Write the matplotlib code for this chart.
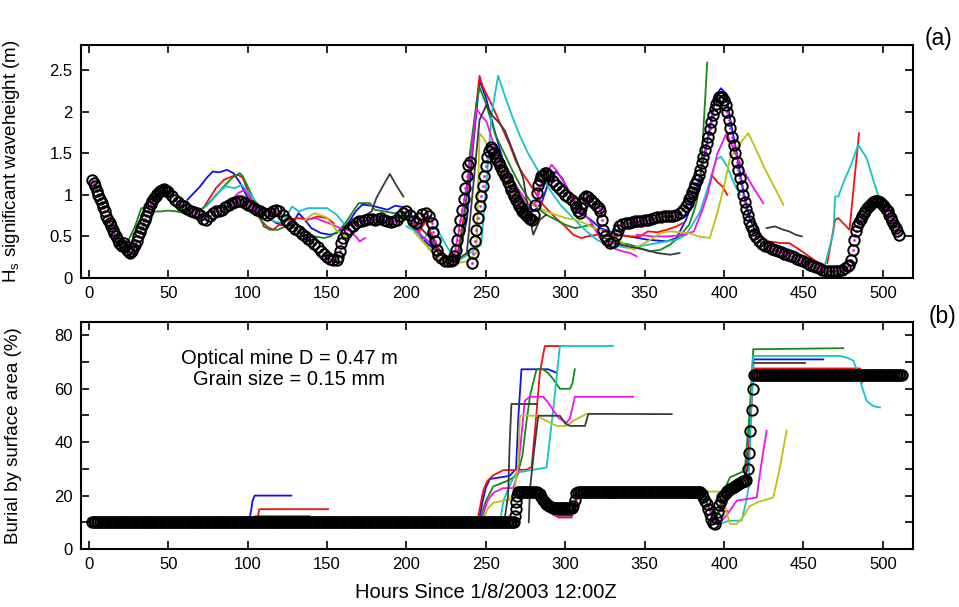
import matplotlib
matplotlib.use("Agg")
import matplotlib.pyplot as plt
from matplotlib.ticker import MultipleLocator

plt.rcParams['font.family'] = ['Liberation Sans', 'DejaVu Sans']

# ---------------- observed significant wave height (black circles) ----------------
obs_hours = [2,3,4,5,6,7,8,9,10,11,12,13,14,15,16,17,18,19,20,21,22,23,24,25,26,27,28,29,30,
             31,32,33,34,35,36,37,38,39,40,41,42,43,44,45,46,47,48,49,
             50,52,54,56,58,60,62,64,66,68,70,72,74,76,78,80,82,84,86,88,90,92,94,96,98,
             100,102,104,106,108,110,112,114,116,118,120,122,124,126,128,130,132,134,136,138,
             140,142,144,146,148,150,152,154,156,157,158,159,160,162,164,166,168,170,172,174,
             176,178,180,182,184,186,188,190,192,194,196,198,200,202,204,206,208,210,212,214,
             216,217,218,219,220,222,224,226,228,229,230,231,232,233,234,235,236,237,238,239,
             240,241,242,243,244,245,246,247,248,249,250,251,252,253,254,255,256,257,258,259,
             260,261,262,263,264,265,266,267,268,269,270,271,272,273,274,275,276,277,278,279,
             280,281,282,283,284,285,286,287,288,289,290,292,294,296,298,300,302,304,306,307,
             308,309,310,311,312,313,314,316,318,320,321,322,323,324,325,326,328,330,332,333,
             334,336,338,340,342,344,346,348,350,352,354,356,358,360,362,364,366,368,370,372,
             374,376,377,378,379,380,381,382,383,384,385,386,387,388,389,390,391,392,393,394,
             395,396,397,398,399,400,401,402,403,404,405,406,407,408,409,410,411,412,413,414,
             415,416,417,418,419,420,422,424,426,428,430,432,434,436,438,440,442,444,446,448,
             450,452,454,456,458,460,462,464,466,468,470,472,474,476,478,479,480,481,482,483,
             484,485,486,487,488,489,490,491,492,493,494,495,496,497,498,499,500,501,502,503,
             504,505,506,507,508,509,510]
obs_hs = [1.18,1.14,1.10,1.05,1.00,0.95,0.90,0.85,0.80,0.75,0.70,0.66,0.62,0.58,0.54,0.50,0.46,0.42,0.40,0.38,0.42,0.38,0.34,0.31,0.30,0.32,0.36,0.40,0.45,
          0.50,0.55,0.60,0.65,0.70,0.75,0.80,0.85,0.89,0.93,0.96,0.99,1.01,1.03,1.05,1.06,1.07,1.06,1.05,
          1.03,0.98,0.94,0.91,0.88,0.86,0.83,0.80,0.79,0.78,0.76,0.71,0.70,0.74,0.78,0.80,0.80,0.82,0.85,0.88,0.90,0.91,0.92,0.92,0.90,
          0.88,0.86,0.84,0.82,0.80,0.78,0.76,0.78,0.81,0.82,0.81,0.76,0.70,0.66,0.62,0.59,0.56,0.53,0.50,0.47,
          0.44,0.41,0.37,0.33,0.29,0.25,0.23,0.22,0.22,0.25,0.32,0.42,0.48,0.54,0.59,0.63,0.66,0.68,0.69,0.70,
          0.71,0.71,0.70,0.71,0.72,0.70,0.68,0.67,0.68,0.70,0.74,0.78,0.80,0.76,0.68,0.66,0.72,0.77,0.78,0.75,
          0.66,0.55,0.44,0.34,0.28,0.24,0.21,0.20,0.20,0.22,0.26,0.34,0.46,0.58,0.70,0.82,0.95,1.08,1.22,1.36,
          1.40,0.18,0.30,0.44,0.58,0.72,0.86,0.98,1.10,1.22,1.34,1.45,1.53,1.57,1.55,1.50,1.46,1.42,1.38,1.34,
          1.30,1.27,1.23,1.20,1.15,1.10,1.06,1.02,0.98,0.94,0.90,0.87,0.84,0.81,0.78,0.76,0.74,0.72,0.71,0.70,
          0.76,0.88,1.02,1.12,1.18,1.22,1.24,1.26,1.26,1.24,1.22,1.17,1.12,1.08,1.04,1.00,0.97,0.94,0.90,0.85,
          0.80,0.78,0.84,0.90,0.96,0.98,0.97,0.94,0.90,0.86,0.84,0.80,0.70,0.58,0.50,0.46,0.42,0.43,0.52,0.58,
          0.63,0.65,0.66,0.66,0.67,0.68,0.68,0.69,0.70,0.70,0.71,0.72,0.73,0.73,0.74,0.74,0.75,0.75,0.76,0.78,
          0.82,0.86,0.90,0.95,0.99,1.03,1.08,1.13,1.18,1.24,1.30,1.38,1.46,1.54,1.62,1.70,1.79,1.88,1.96,2.03,
          2.09,2.14,2.17,2.18,2.17,2.14,2.08,2.00,1.90,1.80,1.70,1.60,1.50,1.40,1.30,1.20,1.10,1.00,0.91,0.83,
          0.76,0.69,0.63,0.58,0.53,0.49,0.44,0.41,0.39,0.37,0.35,0.34,0.32,0.31,0.29,0.28,0.26,0.25,0.23,0.22,
          0.20,0.18,0.16,0.15,0.13,0.12,0.10,0.09,0.08,0.08,0.08,0.09,0.10,0.12,0.14,0.16,0.22,0.34,0.46,0.56,
          0.62,0.67,0.71,0.75,0.78,0.81,0.84,0.86,0.88,0.90,0.91,0.92,0.92,0.92,0.91,0.90,0.88,0.86,0.83,0.80,
          0.76,0.72,0.68,0.64,0.60,0.56,0.52]

# ---------------- forecast wave height runs (hours, Hs) ----------------
blue_hs = [
    ([62,66,70,74,78,82,87,91,95,100,106,112,118,124,128,132,136,140,146,152,156,160,164,168,172,178,184,188,193,198,202,206,210,214,218],
     [0.94,1.02,1.10,1.20,1.28,1.27,1.30,1.26,1.15,0.96,0.86,0.74,0.66,0.62,0.64,0.78,0.70,0.60,0.54,0.52,0.54,0.60,0.68,0.80,0.88,0.87,0.84,0.82,0.87,0.85,0.80,0.62,0.48,0.40,0.34]),
    ([214,220,226,232,238,242,246,250,255,261,267,272,276,280,285,290,294,298,302,306,310,316,322,328,334,340,346,352,358,364,370,376,382,388,392,395,398,401,404,408,412,416,420,426,432,438,444,450],
     [0.55,0.35,0.22,0.18,0.70,1.60,2.37,2.17,1.80,1.40,1.16,0.98,0.86,0.80,0.90,1.18,1.28,1.20,1.05,0.90,0.78,0.70,0.60,0.56,0.52,0.50,0.48,0.46,0.45,0.44,0.48,0.70,1.00,1.50,1.90,2.20,2.28,2.22,1.90,1.50,1.05,0.72,0.55,0.45,0.40,0.36,0.32,0.26]),
]
red_hs = [
    ([72,76,80,85,90,94,97,100,104,108,112,116,120,126,132,138,144,150,154],
     [0.84,0.96,1.08,1.18,1.22,1.24,1.20,1.05,0.85,0.70,0.62,0.58,0.64,0.70,0.72,0.70,0.74,0.72,0.66]),
    ([200,204,208,212,216,220,226,231,235,240,243,246,248,254,261,265,269,273,278,282,286,290,294,300,305,310,314,320,326,334,340,347,352,358,364,370,374],
     [0.74,0.66,0.56,0.68,0.52,0.36,0.22,0.16,0.60,1.28,1.90,2.43,2.30,2.07,1.77,1.60,1.40,1.26,1.12,1.00,0.88,0.80,0.72,0.62,0.52,0.48,0.50,0.52,0.50,0.52,0.50,0.50,0.56,0.55,0.58,0.62,0.66]),
    ([392,396,399,402], [1.24,1.15,1.10,1.00]),
    ([420,428,436,441,446,452,458,464], [0.55,0.44,0.42,0.42,0.36,0.28,0.20,0.14]),
    ([465,470,472,479,485], [0.18,0.70,0.72,0.58,1.74]),
]
green_hs = [
    ([25,29,33,37,41,45,50,55,60,66,72,78,85,90,95,97,101,106,110,114,119,124,130,136,142,148,152,158,163,167,170,177,180,186,192,198,204,208,214,220,226,232,236,240,244,246,250,256,262,267,272,278,284,288,294,300,306,312,316,322,328,335,341,347,353,360,366,372,378,382,385,389.4],
     [0.46,0.62,0.84,0.84,0.80,0.80,0.81,0.80,0.78,0.80,0.84,0.95,1.10,1.20,1.26,1.22,1.06,0.84,0.62,0.58,0.58,0.62,0.66,0.56,0.50,0.48,0.50,0.58,0.70,0.82,0.90,0.90,0.82,0.80,0.78,0.74,0.62,0.50,0.36,0.24,0.18,0.20,0.60,1.50,2.10,2.29,2.10,1.72,1.48,1.28,1.10,0.92,0.82,0.76,0.70,0.64,0.60,0.62,0.64,0.52,0.44,0.42,0.40,0.36,0.32,0.34,0.40,0.50,0.64,0.86,1.12,2.59]),
]
cyan_hs = [
    ([74,80,86,92,96,100,105,110,116,122,128,132,138,144,150,156,162,166],
     [0.86,1.00,1.10,1.08,1.12,1.04,0.92,0.78,0.68,0.66,0.86,0.80,0.84,0.84,0.84,0.76,0.62,0.56]),
    ([200,206,210,216,220,226,232,240,247,251,253.5,257.7,263,267,271.4,276,281.9,287,292.4,297,302.9,308,313.4,320,326,334,340,346,352,358,364,370,376,380,385,390,395,398,402,406,410],
     [0.62,0.56,0.44,0.62,0.56,0.36,0.20,0.30,0.40,1.30,1.96,2.43,2.13,1.92,1.71,1.52,1.32,1.16,1.00,0.88,0.76,0.66,0.56,0.46,0.40,0.38,0.36,0.38,0.40,0.42,0.44,0.46,0.52,0.64,0.80,1.10,1.42,1.46,1.34,1.15,1.00]),
    ([463.6,468.8,470,472,475,480,484.5,489.8,493,497.2],
     [0.16,0.54,0.98,0.98,1.14,1.36,1.60,1.44,1.24,0.98]),
]
magenta_hs = [
    ([88,94,98,102,106], [0.90,1.02,1.06,0.94,0.84]),
    ([136,143,148,153.6,158,164,168,170.6,173.8], [0.70,0.72,0.68,0.64,0.60,0.57,0.50,0.44,0.48]),
    ([205,210,214,218,224,230,236,240,244,247,250.4,255,260,266,272,278,282,286,291.4,295,300,305,310,316,322,326,330,336,341,345],
     [0.60,0.50,0.44,0.36,0.24,0.26,0.90,1.34,2.04,1.95,1.88,1.60,1.42,1.20,1.02,0.86,0.92,1.20,1.36,1.28,1.12,0.96,0.82,0.68,0.48,0.40,0.36,0.32,0.30,0.26]),
    ([345,355,365,375,381,386,389.4,395.7,401.6,406,412,418,424.7],
     [0.52,0.50,0.50,0.52,0.56,0.80,0.99,1.49,1.74,1.55,1.30,1.10,0.90]),
]
yellow_hs = [
    ([90,96,100,104], [0.90,0.96,0.92,0.86]),
    ([136,142,149.6,156,162,166], [0.70,0.78,0.73,0.57,0.49,0.52]),
    ([205,212,218,224,232,238,244,246,248.6,252,258,264,270,276,282,288,294,300,306,312,318,322,326,330,335,340,344],
     [0.55,0.40,0.26,0.20,0.18,0.20,0.30,1.74,1.68,1.55,1.32,1.12,0.98,0.90,0.86,0.80,0.76,0.72,0.70,0.66,0.60,0.58,0.55,0.50,0.44,0.36,0.34]),
    ([344,352,360,366,372,378,384,391,396,400,403.7,410,415.3,420,426,432,437.3],
     [0.36,0.44,0.54,0.56,0.55,0.54,0.50,0.48,0.80,1.10,1.44,1.62,1.74,1.55,1.30,1.08,0.88]),
]
gray_hs = [
    ([160,170,178,181,185,189.5,194,198], [0.58,0.70,0.80,0.96,1.10,1.25,1.10,0.98]),
    ([208,214,220,226,232,238,242,246,250.4,254,257.7,262,268,273.5,276,279.8,284,288],
     [0.62,0.50,0.30,0.22,0.22,0.30,1.10,1.90,2.08,1.95,1.88,1.77,1.48,1.20,0.90,0.52,0.70,0.76]),
    ([330,340,350,358,366,372], [0.42,0.38,0.34,0.30,0.28,0.30]),
    ([426.8,432,437.3,441,445,449], [0.60,0.62,0.58,0.56,0.52,0.50]),
]

# ---------------- modelled burial (black circles) ----------------
bur_hours = (list(range(2, 269)) + [268.4, 268.8, 269.2, 269.6] + list(range(270, 415))
             + [415, 415.8, 416.6, 417.4, 418.2] + list(range(419, 513)))
bur_vals = ([10.0] * 267 + [12.5, 15.0, 17.5, 20.0]
            + [21.5] * 13 + [21.0, 20.5, 19.5, 18.5, 17.7, 17.0, 16.4, 16.0, 15.7, 15.5]
            + [15.3] * 12 + [16.0, 18.5, 21.0] + [21.5] * 78
            + [20.5, 19.5, 18.0, 16.9, 15.0, 13.0, 11.2, 9.7, 9.4, 11.5, 14.0, 16.3, 18.0, 19.4, 20.3,
               21.0, 21.7, 22.2, 22.6, 23.0, 23.3, 23.7, 24.0, 24.4, 24.8, 25.1, 25.4, 25.6, 25.8]
            + [30.0, 36.0, 44.0, 52.0, 60.0] + [65.0] * 94)

# ---------------- forecast burial runs (hours, %) ----------------
blue_bur = [
    ([101.3,102.3,103,104.4,127.5], [11.9,15,18,20,20]),
    ([246,248,250,252.5,258.8,265,269,270.5,272.4,289.2,294.4], [11.9,18,23,26.2,26.8,27.4,30,50,67.3,67.3,66]),
    ([284,288,292,296,304,306,307], [21,17,14,12.5,12.5,16,21]),
    ([386,390,394,398,402,406,412,415,418.6,462.5], [21.5,16,11,15,21,24,26,30,71,71]),
]
red_bur = [
    ([106.3,107.3,150.6], [11.9,14.9,14.9]),
    ([245.1,248.3,251,254.6,260.9,275.6,278.8,281,284,287.1,298.7], [11.9,21.9,25.5,27.6,29.5,29.7,30.7,45,66,76,76]),
    ([284,288,292,296,304,306,308], [21,17,13,11.8,11.8,16,21]),
    ([398,402,408,413,416,418.5,485.7,486.8], [16,21,25,27,40,67.6,67.6,62.3]),
    ([396,398,402], [14.3,14.3,14.3]),
]
green_bur = [
    ([103.7,105,139], [11.9,12.3,12.3]),
    ([246.2,250,254.6,265,270,273,275.6,278,281.9,286,289,292.4,296.6,302.9,304.5,306], [11,18,23.4,25.9,28,35,48,58,67.3,67.3,66,63.6,60,60,62,67.3]),
    ([386,392,396,400,403.7,413,416,418.4,475.1], [21.5,14,13,22,26.8,29.3,50,74.8,75.2]),
]
cyan_bur = [
    ([258.8,261,263,266,269.3,288.2,292,296.6,330], [9.5,18,21,25,28.6,30.5,50,76,76]),
    ([386,392,397.3,403,411,414,415.3,417,418.4,473,478,481.6,485.6,489.8,494,498.2], [21,13,9.4,10.6,10.6,18,22.4,50,72.3,72.3,71.5,70.5,63,55.5,53.5,53]),
]
magenta_bur = [
    ([247.2,251,254.6,260.9,267.2,270,272,274.5,277.7,286.1,289,292.4,296,300.8,303,306,342.8], [11,18,21,22.8,22.8,28,40,55.5,57,57,55,52,49,47.3,49,57,57]),
    ([390,394,397,402,408,420.6,423,426.8], [16,10,9.4,13,18.1,19.3,30,44.3]),
]
yellow_bur = [
    ([248.3,251,254.6,265,268,270.4,271.4,281.9,288,294.5,300.8,305,313.4], [11,15,17.3,18.5,22,32,49.9,49.9,48,46.1,46.1,48,50.6]),
    ([384,397,400,403.7,408,412,416,421.6,431,435,439.4], [21.5,21.5,17,9.4,9.4,12,16,17.6,19.3,30,44.3]),
]
gray_bur = [
    ([258,262,264,265,266.1,281.9], [10,12,20,40,54.3,54.3]),
    ([277,277.7,280,283,296.6,300,302.9,312.4,314.5,367], [10,22.1,35,49.9,49.9,47,46.1,46.1,50.6,50.5]),
    ([418.6,451], [69.5,69.5]),
]

colors = {'blue': '#1010f0', 'red': '#f01010', 'green': '#138a13', 'cyan': '#14c4c4',
          'magenta': '#f010f0', 'yellow': '#bfbf10', 'gray': '#3a3a3a'}

fig = plt.figure(figsize=(9.59, 6.07), dpi=100)
ax1 = fig.add_axes([81/959, 1-278/607, 832/959, 233/607])
ax2 = fig.add_axes([81/959, 1-549/607, 832/959, 227/607])

def draw_runs(ax, runs, color):
    for h, v in runs:
        ax.plot(h, v, color=color, lw=1.3, zorder=2)

for runs, c in [(blue_hs, 'blue'), (red_hs, 'red'), (green_hs, 'green'), (cyan_hs, 'cyan'),
                (magenta_hs, 'magenta'), (yellow_hs, 'yellow'), (gray_hs, 'gray')]:
    draw_runs(ax1, runs, colors[c])
for runs, c in [(blue_bur, 'blue'), (red_bur, 'red'), (green_bur, 'green'), (cyan_bur, 'cyan'),
                (magenta_bur, 'magenta'), (yellow_bur, 'yellow'), (gray_bur, 'gray')]:
    draw_runs(ax2, runs, colors[c])

ax1.plot(obs_hours, obs_hs, linestyle='none', marker='.', ms=2, color=colors['magenta'], zorder=2.5)
ax1.plot(obs_hours, obs_hs, linestyle='none', marker='o', ms=7.5, mfc='none', mec='black', mew=1.4, zorder=3)
ax2.plot(bur_hours, bur_vals, linestyle='none', marker='o', ms=7.5, mfc='none', mec='black', mew=1.4, zorder=3)

for ax in (ax1, ax2):
    ax.set_xlim(-5, 519)
    ax.xaxis.set_major_locator(MultipleLocator(50))
    ax.tick_params(direction='in', top=True, right=True, length=6, width=1.2, labelsize=12, pad=6)
    ax.tick_params(which='minor', direction='in', right=True, length=6, width=1.2)
    for s in ax.spines.values():
        s.set_linewidth(1.5)

ax1.set_ylim(0, 2.8)
ax1.set_yticks([0, 0.5, 1, 1.5, 2, 2.5])
ax1.set_yticklabels(['0', '0.5', '1', '1.5', '2', '2.5'])
ax1.set_ylabel('H$_\\mathregular{s}$ significant waveheight (m)', fontsize=13.5)
ax1.yaxis.set_label_coords(-0.071, 0.5)

ax2.set_ylim(0, 85)
ax2.yaxis.set_major_locator(MultipleLocator(20))
ax2.yaxis.set_minor_locator(MultipleLocator(10))
ax2.set_ylabel('Burial by surface area (%)', fontsize=13.5)
ax2.yaxis.set_label_coords(-0.071, 0.5)

ax2.text(126, 71.5, 'Optical mine D = 0.47 m', ha='center', va='center', fontsize=14.5)
ax2.text(126, 63.3, 'Grain size = 0.15 mm', ha='center', va='center', fontsize=14.5)

fig.text(939/959, 1-38/607, '(a)', ha='center', va='center', fontsize=16.5)
fig.text(943/959, 1-317/607, '(b)', ha='center', va='center', fontsize=16.5)
fig.text(486/959, 1-593/607, 'Hours Since 1/8/2003 12:00Z', ha='center', va='center', fontsize=14.5)

fig.savefig('out.png', dpi=100)
